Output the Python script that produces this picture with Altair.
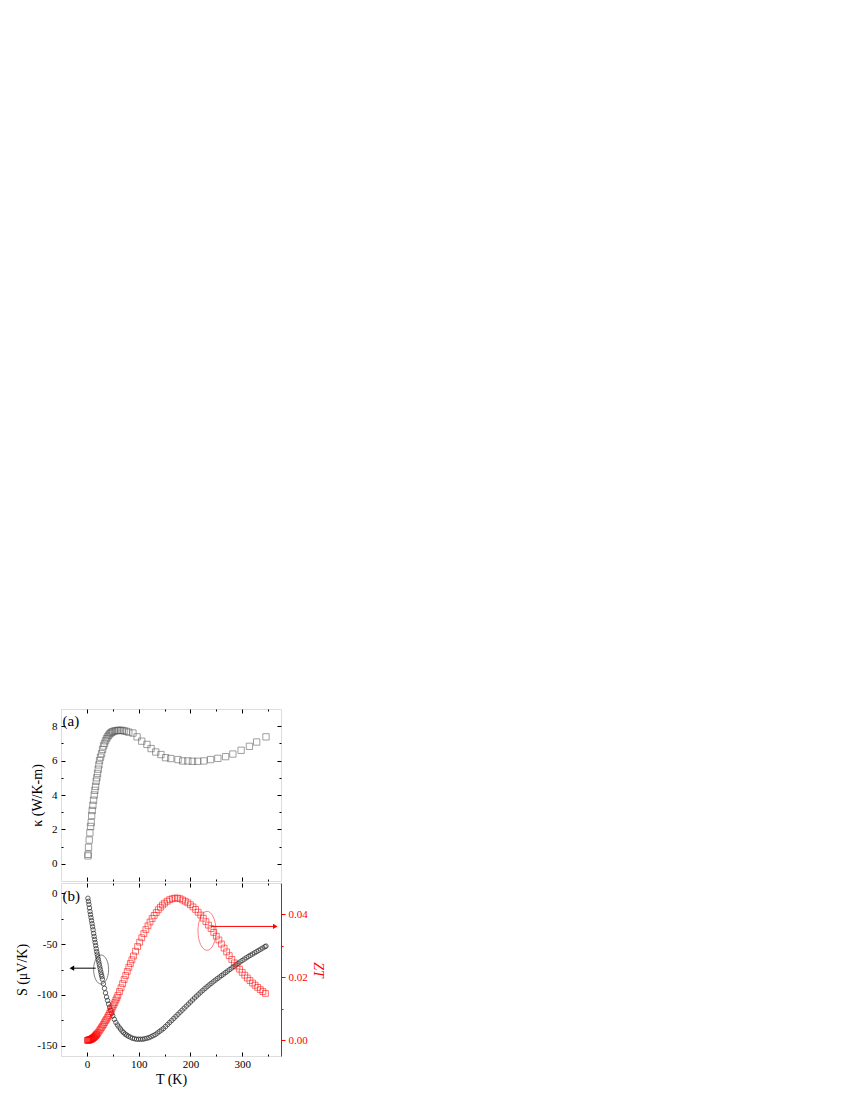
import altair as alt
import pandas as pd

FONT = "Liberation Serif"

# ---------------- data ----------------
T_kappa = [2, 2.5, 3.2, 4.5, 5.8, 7.1, 8.4, 9.2, 10.3, 11.6, 12.9, 14.2, 15.5, 16.8, 18, 19.3,
           20.6, 21.9, 23.2, 24.5, 26.4, 28.4, 30.3, 32.2, 34, 36, 38, 40, 42, 44, 46, 48, 50,
           53, 56, 59, 62, 65, 68, 72, 76, 81, 89, 97, 106, 116, 124, 133, 143, 152, 162, 176,
           185, 195, 204, 214, 226, 239, 253, 268, 282, 298, 314, 328, 346]
kappa = [0.46, 0.55, 0.96, 1.38, 1.8, 2.17, 2.4, 2.8, 3.1, 3.4, 3.7, 4.0, 4.27, 4.5, 4.8, 5.0,
         5.25, 5.5, 5.75, 6.0, 6.2, 6.4, 6.65, 6.85, 7.0, 7.15, 7.28, 7.38, 7.47, 7.55, 7.6, 7.65,
         7.68, 7.72, 7.74, 7.75, 7.76, 7.76, 7.75, 7.73, 7.7, 7.65, 7.6, 7.38, 7.13, 6.94, 6.7,
         6.5, 6.35, 6.17, 6.12, 6.06, 5.98, 5.98, 5.96, 5.96, 5.98, 6.06, 6.13, 6.23, 6.38, 6.6,
         6.83, 7.08, 7.38]

T_S = [2, 3, 4, 5, 6, 7, 8, 9, 10, 11, 12, 13, 14, 15, 16, 17, 18, 19, 20, 21, 22, 23, 24, 25,
       26, 27, 28, 29, 30, 32, 34, 36, 38, 40, 42, 44, 46, 48, 50, 53, 56, 59, 62, 65, 68, 71,
       74, 77, 80, 84, 88, 92, 96, 100, 104, 108, 112, 116, 120, 124, 128, 132, 136, 140, 144,
       148, 152, 156, 160, 164, 168, 172, 176, 180, 184, 188, 192, 196, 200, 204, 208, 212, 216,
       220, 224, 228, 232, 236, 240, 244, 248, 252, 256, 260, 264, 268, 272, 276, 280, 284, 288,
       292, 296, 300, 304, 308, 312, 316, 320, 324, 328, 332, 336, 340, 344, 346]
S = [-5, -8, -11, -14.5, -18, -21, -24, -27, -30, -33, -36, -39.5, -42.5, -45.5, -48.5, -51.5,
     -54.5, -57.5, -60, -62.5, -65, -67.5, -70, -72.5, -75, -77.5, -80, -82, -84.5, -89, -93.5,
     -98, -102, -105.5, -109, -112, -115, -118, -120.5, -124, -127, -129.5, -131.5, -133.5,
     -135.5, -137, -138.5, -139.5, -140.5, -141.5, -142.5, -143, -143.5, -143.5, -143.5, -143.5,
     -143, -142.5, -142, -141, -140, -139, -137.5, -136, -134.5, -133, -131, -129, -127, -125,
     -123, -121, -119, -117, -115, -113, -111, -109, -107, -105, -103, -101.1, -99.2, -97.3,
     -95.5, -93.7, -92, -90.3, -88.7, -87.1, -85.5, -84, -82.5, -81, -79.5, -78, -76.5, -75,
     -73.5, -72, -70.5, -69, -67.6, -66.2, -64.8, -63.5, -62.2, -61, -59.8, -58.6, -57.4, -56.2,
     -55, -53.8, -52.6, -52]

T_ZT = [1, 2, 3, 4, 5, 6, 7, 8, 9, 10, 11, 12, 13, 14, 15, 16, 17, 18, 19, 20, 22, 24, 26, 28,
        30, 32, 34, 36, 38, 40, 42, 44, 46, 48, 50, 52, 54, 56, 58, 60, 63, 66, 69, 72, 75, 78,
        81, 84, 87, 90, 94, 98, 102, 106, 110, 114, 118, 122, 126, 130, 134, 138, 142, 146, 150,
        155, 160, 165, 170, 175, 180, 185, 190, 195, 200, 205, 210, 215, 220, 225, 230, 235, 240,
        245, 250, 255, 260, 265, 270, 275, 280, 285, 290, 295, 300, 305, 310, 315, 320, 325, 330,
        335, 340, 345]
ZT = [0, 0, 0, 0.0001, 0.0001, 0.0002, 0.0003, 0.0003, 0.0004, 0.0005, 0.0006, 0.0007, 0.0009,
      0.001, 0.0011, 0.0013, 0.0015, 0.0017, 0.0019, 0.0021, 0.0025, 0.003, 0.0035, 0.004,
      0.0045, 0.005, 0.0056, 0.0062, 0.0067, 0.0073, 0.0079, 0.0086, 0.0092, 0.0099, 0.0106,
      0.0113, 0.012, 0.0128, 0.0135, 0.0143, 0.0155, 0.0167, 0.018, 0.0193, 0.0206, 0.0219,
      0.0232, 0.0244, 0.0256, 0.0268, 0.0283, 0.0298, 0.0312, 0.0326, 0.0339, 0.0352, 0.0364,
      0.0376, 0.0387, 0.0397, 0.0406, 0.0415, 0.0423, 0.043, 0.0436, 0.0442, 0.0447, 0.045,
      0.0452, 0.0452, 0.045, 0.0446, 0.0442, 0.0437, 0.0431, 0.0424, 0.0416, 0.0407, 0.0398,
      0.0388, 0.0377, 0.0366, 0.0355, 0.0343, 0.0331, 0.0319, 0.0306, 0.0293, 0.0281, 0.0269,
      0.0257, 0.0246, 0.0236, 0.0226, 0.0216, 0.0207, 0.0198, 0.019, 0.0182, 0.0175, 0.0168,
      0.0161, 0.0155, 0.0149]

x_major = [0, 100, 200, 300]
x_minor = [50, 150, 250, 350]
k_major = [0, 2, 4, 6, 8]
k_minor = [1, 3, 5, 7]
s_major = [-150, -100, -50, 0]
s_minor = [-125, -75, -25]
zt_major = [0.0, 0.02, 0.04]
zt_minor = [0.01, 0.03]

# annotations (data coordinates)
ell_left = {"T": [27.5], "S": [-75.0]}
ell_right = {"T": [232.0], "ZT": [0.0348]}
arrow_left = {"T": [-29.0], "T2": [17.0], "S": [-73.7]}
arrow_right = {"T": [239.0], "T2": [364.0], "ZT": [0.0362]}
panel_a = {"T": [-47.0], "kappa": [8.3], "label": ["(a)"]}
panel_b = {"T": [-47.0], "S": [-2.3], "label": ["(b)"]}

df_k = pd.DataFrame({"T": T_kappa, "kappa": kappa})
df_s = pd.DataFrame({"T": T_S, "S": S})
df_z = pd.DataFrame({"T": T_ZT, "ZT": ZT})

xs = alt.Scale(domain=[-50, 375], nice=False, zero=False)
k_scale = alt.Scale(domain=[-1, 9], nice=False, zero=False)
s_scale = alt.Scale(domain=[-160, 10], nice=False, zero=False)
zt_scale = alt.Scale(domain=[-0.005, 0.05], nice=False, zero=False)

RED = "#ff0000"


def ax(orient, values, size, labels=False, title=None, color="black", expr=None, tpad=7, lpad=4):
    kw = dict(orient=orient, values=values, tickSize=size, offset=-size, domain=False,
              grid=False, labels=labels, ticks=True, tickColor=color, tickWidth=1,
              labelColor=color, labelFont=FONT, labelFontSize=11, labelPadding=lpad,
              titleFont=FONT, titleFontSize=14, titleFontWeight="normal", titleColor=color,
              titlePadding=tpad, title=title)
    if expr is not None:
        kw["labelExpr"] = expr
    return alt.Axis(**kw)


def ellipse_path(ratio):
    k = 0.5523
    rx, ry = ratio, 1.0
    return (f"M{rx},0 C{rx},{k*ry} {k*rx},{ry} 0,{ry} C{-k*rx},{ry} {-rx},{k*ry} {-rx},0 "
            f"C{-rx},{-k*ry} {-k*rx},{-ry} 0,{-ry} C{k*rx},{-ry} {rx},{-k*ry} {rx},0 Z")


# ---------------- panel (a) ----------------
bk = alt.Chart(df_k)
a1 = bk.mark_point(shape="square", size=40, filled=False, color="#555555", strokeWidth=0.8).encode(
    x=alt.X("T:Q", scale=xs, axis=ax("bottom", x_major, 4)),
    y=alt.Y("kappa:Q", scale=k_scale,
            axis=ax("left", k_major, 4, labels=True, title="κ (W/K-m)", expr="'' + datum.value")),
)
a2 = bk.mark_point(opacity=0).encode(
    x=alt.X("T:Q", scale=xs, axis=ax("bottom", x_minor, 2)),
    y=alt.Y("kappa:Q", scale=k_scale, axis=ax("left", k_minor, 2)),
)
a3 = bk.mark_point(opacity=0).encode(
    x=alt.X("T:Q", scale=xs, axis=ax("top", x_major, 4)),
    y=alt.Y("kappa:Q", scale=k_scale, axis=ax("right", k_major, 4)),
)
a4 = bk.mark_point(opacity=0).encode(
    x=alt.X("T:Q", scale=xs, axis=ax("top", x_minor, 2)),
    y=alt.Y("kappa:Q", scale=k_scale, axis=ax("right", k_minor, 2)),
)
a5 = alt.Chart(pd.DataFrame(panel_a)).mark_text(
    align="left", baseline="middle", font=FONT, fontSize=15, color="black").encode(
    x=alt.X("T:Q", scale=xs, axis=None),
    y=alt.Y("kappa:Q", scale=k_scale, axis=None),
    text="label:N",
)
top = alt.layer(a1, a2, a3, a4, a5).resolve_axis(x="independent", y="independent").properties(
    width=220, height=172)

# ---------------- panel (b) ----------------
bs = alt.Chart(df_s)
bz = alt.Chart(df_z)
b1 = bs.mark_point(shape="circle", size=20, filled=False, color="#222222", strokeWidth=1).encode(
    x=alt.X("T:Q", scale=xs, axis=ax("bottom", x_major, 4, labels=True, title="T (K)",
                                     tpad=3, lpad=2)),
    y=alt.Y("S:Q", scale=s_scale,
            axis=ax("left", s_major, 4, labels=True, title="S (μV/K)", expr="'' + datum.value")),
)
b2 = bs.mark_point(opacity=0).encode(
    x=alt.X("T:Q", scale=xs, axis=ax("bottom", x_minor, 2)),
    y=alt.Y("S:Q", scale=s_scale, axis=ax("left", s_minor, 2)),
)
b3 = bz.mark_point(shape="square", size=34, filled=False, color=RED, strokeWidth=0.8).encode(
    x=alt.X("T:Q", scale=xs, axis=ax("top", x_major, 4)),
    y=alt.Y("ZT:Q", scale=zt_scale,
            axis=alt.Axis(orient="right", values=zt_major, format=".2f", domain=True,
                          domainColor=RED, domainWidth=1, tickColor=RED, tickSize=4,
                          labelColor=RED, labelFont=FONT, labelFontSize=11, labelPadding=3,
                          grid=False, title="ZT", titleColor=RED, titleFont=FONT,
                          titleFontSize=14, titleFontStyle="italic", titleFontWeight="normal",
                          titlePadding=3)),
)
b4 = bz.mark_point(opacity=0).encode(
    x=alt.X("T:Q", scale=xs, axis=ax("top", x_minor, 2)),
    y=alt.Y("ZT:Q", scale=zt_scale,
            axis=alt.Axis(orient="right", values=zt_minor, labels=False, domain=False,
                          tickColor=RED, tickSize=2, grid=False, title=None)),
)
b5 = alt.Chart(pd.DataFrame(ell_left)).mark_point(
    shape=ellipse_path(7.5 / 14.5), size=29 ** 2, filled=False, color="black",
    strokeWidth=0.7).encode(
    x=alt.X("T:Q", scale=xs, axis=None), y=alt.Y("S:Q", scale=s_scale, axis=None))
b6 = alt.Chart(pd.DataFrame(ell_right)).mark_point(
    shape=ellipse_path(9 / 19.5), size=39 ** 2, filled=False, color=RED,
    strokeWidth=0.7).encode(
    x=alt.X("T:Q", scale=xs, axis=None), y=alt.Y("ZT:Q", scale=zt_scale, axis=None))
al = alt.Chart(pd.DataFrame(arrow_left))
b7 = al.mark_rule(color="black", strokeWidth=1).encode(
    x=alt.X("T:Q", scale=xs, axis=None), x2="T2:Q", y=alt.Y("S:Q", scale=s_scale, axis=None))
b8 = al.mark_point(shape="triangle-left", size=28, filled=True, color="black", opacity=1).encode(
    x=alt.X("T:Q", scale=xs, axis=None), y=alt.Y("S:Q", scale=s_scale, axis=None))
ar = alt.Chart(pd.DataFrame(arrow_right))
b9 = ar.mark_rule(color=RED, strokeWidth=1).encode(
    x=alt.X("T:Q", scale=xs, axis=None), x2="T2:Q", y=alt.Y("ZT:Q", scale=zt_scale, axis=None))
b10 = ar.mark_point(shape="triangle-right", size=28, filled=True, color=RED, opacity=1).encode(
    x=alt.X("T2:Q", scale=xs, axis=None), y=alt.Y("ZT:Q", scale=zt_scale, axis=None))
b11 = alt.Chart(pd.DataFrame(panel_b)).mark_text(
    align="left", baseline="middle", font=FONT, fontSize=15, color="black").encode(
    x=alt.X("T:Q", scale=xs, axis=None),
    y=alt.Y("S:Q", scale=s_scale, axis=None),
    text="label:N",
)
bottom = alt.layer(b1, b2, b3, b4, b5, b6, b7, b8, b9, b10, b11).resolve_scale(
    y="independent").resolve_axis(x="independent", y="independent").properties(
    width=220, height=173)

chart = alt.vconcat(top, bottom, spacing=0).properties(
    padding={"left": 7, "top": 700, "right": 5, "bottom": 5}
).configure_view(stroke="black", strokeWidth=1).configure(font=FONT)

chart.save("out.html", embed_options={"renderer": "svg", "actions": False})
